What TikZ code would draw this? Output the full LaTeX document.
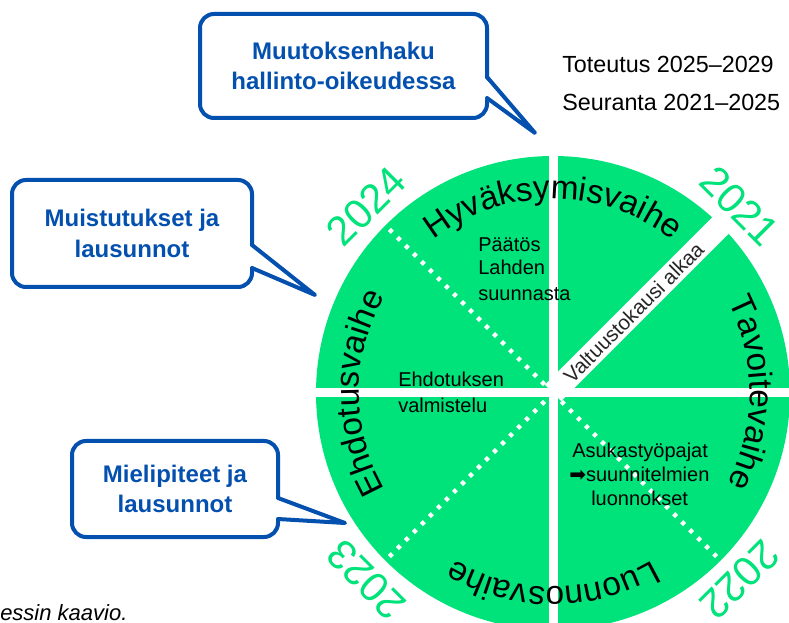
\documentclass[tikz,border=0pt]{standalone}
\usepackage{fontspec}
\setmainfont{Liberation Sans}
\newfontfamily\arrowfont{DejaVu Sans}
\usetikzlibrary{calc,decorations.text}
\definecolor{ringgreen}{RGB}{0,226,122}
\definecolor{callblue}{RGB}{4,80,175}
\newcommand\phasefont{\fontsize{25}{28}\selectfont}
\tikzset{
  callnode/.style={draw=callblue, line width=3pt, fill=white, rounded corners=10.5pt,
    text=callblue, align=center, font=\bfseries\fontsize{18}{23}\selectfont, inner sep=0pt},
  pointerline/.style={draw=callblue, line width=3pt, line join=round, line cap=round},
  yearstyle/.style={text=ringgreen, font=\fontsize{31}{34}\selectfont, inner sep=0pt},
  innertext/.style={anchor=base west, inner sep=0pt, font=\fontsize{15}{18}\selectfont},
  legendtext/.style={anchor=base west, inner sep=0pt, font=\fontsize{17.5}{20}\selectfont},
  gapline/.style={white, line width=6.75pt},
  dotline/.style={white, line width=3.2pt, dash pattern=on 3pt off 5.5pt},
  phaselabel/.style={decorate, decoration={text along path, text align=center, text={|\phasefont|#1}}}
}
\begin{document}
\begin{tikzpicture}[x=0.75pt,y=0.75pt]
\useasboundingbox (0,-623) rectangle (789,0);
\coordinate (C) at (553,-393);
% disk
\fill[ringgreen] (C) circle[radius=237];
% white cross
\draw[gapline] ($(C)+(0,-250)$) -- ($(C)+(0,250)$);
\draw[gapline] ($(C)+(-250,0)$) -- ($(C)+(250,0)$);
% white band
\draw[white, line width=17.25pt] (C) -- ($(C)+(45:250)$);
% dotted lines
\foreach \a in {135,225,315}
  \draw[dotline] ($(C)+(\a:12)$) -- ($(C)+(\a:233)$);
% phase labels
\path[phaselabel={Hyväksymisvaihe}] ($(C)+(140:194)$) arc[start angle=140, end angle=40, radius=194];
\path[phaselabel={Tavoitevaihe}] ($(C)+(50:197)$) arc[start angle=50, end angle=-50, radius=197];
\path[phaselabel={Luonnosvaihe}] ($(C)+(-40:194)$) arc[start angle=-40, end angle=-140, radius=194];
\path[phaselabel={Ehdotusvaihe}] ($(C)+(230:194)$) arc[start angle=230, end angle=130, radius=194];
% years
\node[yearstyle, rotate=45] (y2024) at ($(C)+(135:264)$) {2024};
\node[yearstyle, rotate=-45] (y2021) at ($(C)+(45:264)$) {2021};
\node[yearstyle, rotate=-135] (y2022) at ($(C)+(-45:264)$) {2022};
\node[yearstyle, rotate=135] (y2023) at ($(C)+(225:264)$) {2023};
% band text
\node[rotate=45, inner sep=0pt, text=black!85, font=\fontsize{15.5}{17}\selectfont] (valt) at ($(C)+(45:114)$) {Valtuustokausi alkaa};
% inner texts
\node[innertext] (p1) at (478,-252) {Päätös};
\node[innertext] (p2) at (478,-275) {Lahden};
\node[innertext] (p3) at (478,-301) {suunnasta};
\node[innertext] (e1) at (398,-387) {Ehdotuksen};
\node[innertext] (e2) at (398,-412) {valmistelu};
\node[innertext] (a1) at (572,-457) {Asukastyöpajat};
\node[innertext] (a2) at (569,-481) {{\arrowfont ➡}suunnitelmien};
\node[innertext] (a3) at (591,-505) {luonnokset};
% legend
\node[legendtext] (leg1) at (562,-73) {Toteutus 2025–2029};
\node[legendtext] (leg2) at (562,-111) {Seuranta 2021–2025};
% caption
\node[anchor=base west, inner sep=0pt, font=\itshape\fontsize{16.5}{20}\selectfont] (capt) at (0,-620) {essin kaavio.};
% callout 1
\node[callnode, minimum width=215.25pt, minimum height=78pt] (cb1) at (343.5,-66) {Muutoksenhaku\\hallinto-oikeudessa};
\coordinate (t1) at (535,-133);
\fill[white] (484,-77) -- (t1) -- (484,-98) -- cycle;
\draw[pointerline] (487,-77) -- (t1) -- (487,-98);
% callout 2
\node[callnode, minimum width=180pt, minimum height=80.25pt] (cb2) at (132,-233.5) {Muistutukset ja\\lausunnot};
\coordinate (t2) at (315,-295);
\fill[white] (249,-245) -- (t2) -- (249,-268) -- cycle;
\draw[pointerline] (252,-245) -- (t2) -- (252,-268);
% callout 3
\node[callnode, minimum width=154.5pt, minimum height=72pt] (cb3) at (175,-489) {Mielipiteet ja\\lausunnot};
\coordinate (t3) at (345,-523);
\fill[white] (275,-498) -- (t3) -- (275,-519) -- cycle;
\draw[pointerline] (278,-498) -- (t3) -- (278,-519);
\end{tikzpicture}
\end{document}
